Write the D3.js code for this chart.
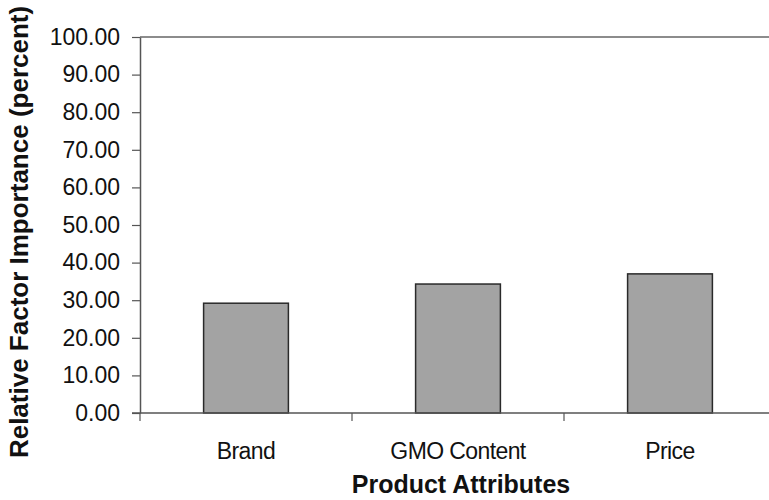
<!DOCTYPE html>
<html>
<head>
<meta charset="utf-8">
<script src="https://cdn.jsdelivr.net/npm/d3@7"></script>
<style>
  body { margin: 0; background: #fff; }
  svg { display: block; font-family: "Liberation Sans", Arial, sans-serif; }
</style>
</head>
<body>
<div id="chart"></div>
<script>
// chart data
var categories = ["Brand", "GMO Content", "Price"];
var importance = [29.2, 34.3, 37.0];
var yTicks = [0, 10, 20, 30, 40, 50, 60, 70, 80, 90, 100];

var svgWidth = 769;
var svgHeight = 500;

// plot area runs a little past the right edge, like the cropped original
var margin = { top: 37, right: -7, bottom: 87, left: 140 };
var width = svgWidth - margin.left - margin.right;
var height = svgHeight - margin.top - margin.bottom;

var svg = d3.select("#chart")
    .append("svg")
    .attr("width", svgWidth)
    .attr("height", svgHeight);

var chartGroup = svg.append("g")
    .attr("transform", `translate(${margin.left}, ${margin.top})`);

// scales
var xScale = d3.scaleBand()
    .domain(categories)
    .range([0, width])
    .paddingInner(0.6)
    .paddingOuter(0.3);

var xBand = d3.scaleBand()
    .domain(categories)
    .range([0, width]);

var yScale = d3.scaleLinear()
    .domain([0, 100])
    .range([height, 0]);

// top border of plot area
chartGroup.append("line")
    .attr("x1", 0)
    .attr("x2", width)
    .attr("y1", 0)
    .attr("y2", 0)
    .attr("stroke", "#666")
    .attr("stroke-width", 1.5);

// bars
chartGroup.selectAll("rect.bar")
    .data(importance)
    .enter()
    .append("rect")
    .attr("class", "bar")
    .attr("x", (d, i) => xScale(categories[i]))
    .attr("y", d => yScale(d))
    .attr("width", xScale.bandwidth())
    .attr("height", d => height - yScale(d))
    .attr("fill", "#a3a3a3")
    .attr("stroke", "#2a2a2a")
    .attr("stroke-width", 1.5);

// y axis
var leftAxis = d3.axisLeft(yScale)
    .tickValues(yTicks)
    .tickFormat(d3.format(".2f"))
    .tickSize(8)
    .tickSizeOuter(0)
    .tickPadding(12);

var yAxis = chartGroup.append("g").call(leftAxis);
yAxis.select(".domain").attr("stroke", "#555").attr("stroke-width", 1.5);
yAxis.selectAll(".tick line").attr("stroke", "#555").attr("stroke-width", 1.2);
yAxis.selectAll("text")
    .attr("font-size", "23px")
    .attr("fill", "#111")
    .attr("font-family", "Liberation Sans, Arial, sans-serif");

// x axis: ticks sit between the categories
var xAxisG = chartGroup.append("g")
    .attr("transform", `translate(0, ${height})`);

xAxisG.append("line")
    .attr("x1", -8)
    .attr("x2", width)
    .attr("stroke", "#555")
    .attr("stroke-width", 1.5);

xAxisG.selectAll("line.tick")
    .data(categories)
    .enter()
    .append("line")
    .attr("class", "tick")
    .attr("x1", d => xBand(d))
    .attr("x2", d => xBand(d))
    .attr("y1", 0)
    .attr("y2", 8)
    .attr("stroke", "#555")
    .attr("stroke-width", 1.2);

xAxisG.selectAll("text")
    .data(categories)
    .enter()
    .append("text")
    .attr("x", d => xBand(d) + xBand.bandwidth() / 2)
    .attr("y", 46)
    .attr("text-anchor", "middle")
    .attr("font-size", "23px")
    .attr("fill", "#111")
    .attr("letter-spacing", "-0.6px")
    .text(d => d);

// axis labels
svg.append("text")
    .attr("transform", "rotate(-90)")
    .attr("x", -232)
    .attr("y", 28)
    .attr("text-anchor", "middle")
    .attr("font-size", "26px")
    .attr("font-weight", "bold")
    .attr("fill", "#111")
    .text("Relative Factor Importance (percent)");

svg.append("text")
    .attr("x", 461)
    .attr("y", 493)
    .attr("text-anchor", "middle")
    .attr("font-size", "25px")
    .attr("font-weight", "bold")
    .attr("fill", "#111")
    .text("Product Attributes");
</script>
</body>
</html>
